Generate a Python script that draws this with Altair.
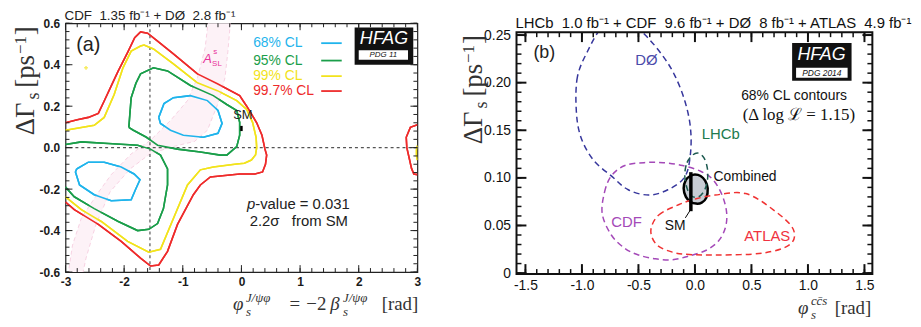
import altair as alt
import pandas as pd

SANS = "Liberation Sans"
SERIF = "Liberation Serif"

# ======================= Panel (a) data =======================
A_X_DOMAIN = [-3.0, 3.0]
A_Y_DOMAIN = [-0.6, 0.6]
a_x_major = [-3, -2, -1, 0, 1, 2, 3]
a_y_major = [-0.6, -0.4, -0.2, 0.0, 0.2, 0.4, 0.6]
a_x_minor = [round(-3 + 0.2 * k, 2) for k in range(31)]
a_y_minor = [round(-0.6 + 0.04 * k, 3) for k in range(31)]

cl_names = ["68% CL", "95% CL", "99% CL", "99.7% CL"]
cl_colors = ["#1fb4ec", "#1a9e4a", "#f2e31c", "#ee2b2b"]

a_cl68_upper = [(-1.41, 0.146), (-1.32, 0.213), (-1.16, 0.241), (-0.87, 0.251), (-0.58, 0.227),
                (-0.40, 0.179), (-0.33, 0.117), (-0.40, 0.069), (-0.65, 0.050), (-0.99, 0.060),
                (-1.21, 0.084), (-1.38, 0.117)]
a_cl68_lower = [(-2.81, -0.103), (-2.61, -0.070), (-2.34, -0.070), (-2.05, -0.093), (-1.83, -0.127),
                (-1.73, -0.155), (-1.80, -0.198), (-1.88, -0.251), (-2.22, -0.256), (-2.51, -0.227),
                (-2.76, -0.180), (-2.83, -0.117)]
a_cl95_upper = [(-1.92, 0.098), (-1.90, 0.170), (-1.88, 0.241), (-1.80, 0.310), (-1.72, 0.356),
                (-1.50, 0.385), (-1.26, 0.370), (-0.87, 0.300), (-0.48, 0.251), (-0.25, 0.208),
                (-0.08, 0.179), (-0.03, 0.122), (-0.03, 0.060), (-0.08, 0.005), (-0.25, -0.036),
                (-0.36, -0.036), (-0.70, -0.021), (-1.09, -0.007), (-1.43, 0.012), (-1.62, 0.050),
                (-1.85, 0.085)]
a_cl95_lower = [(-3.0, 0.015), (-2.73, 0.028), (-2.27, 0.020), (-1.77, 0.012), (-1.55, -0.007),
                (-1.38, -0.036), (-1.26, -0.103), (-1.26, -0.180), (-1.33, -0.294), (-1.43, -0.366),
                (-1.58, -0.394), (-1.77, -0.400), (-2.10, -0.356), (-2.51, -0.294), (-2.85, -0.237),
                (-3.0, -0.190)]
a_cl99_main = [(-3.0, 0.084), (-2.51, 0.108), (-2.34, 0.146), (-2.17, 0.256), (-2.02, 0.385),
               (-1.88, 0.466), (-1.72, 0.490), (-1.66, 0.495), (-1.50, 0.476), (-1.16, 0.404),
               (-0.75, 0.313), (-0.41, 0.275), (-0.08, 0.227), (0.09, 0.184), (0.19, 0.122),
               (0.25, 0.050), (0.26, 0.000), (0.24, -0.035), (0.17, -0.060), (0.05, -0.075),
               (-0.08, -0.079), (-0.48, -0.093), (-0.70, -0.107), (-0.80, -0.140), (-0.92, -0.180),
               (-1.16, -0.342), (-1.38, -0.490), (-1.58, -0.504), (-1.94, -0.452), (-2.39, -0.356),
               (-2.73, -0.299), (-3.0, -0.237)]
a_cl99_edge = [(3.0, 0.01), (2.985, -0.01), (2.985, -0.04), (3.0, -0.06)]
a_cl997_main = [(-3.0, 0.120), (-2.80, 0.135), (-2.61, 0.146), (-2.44, 0.165), (-2.34, 0.225),
                (-2.20, 0.310), (-2.10, 0.370), (-1.94, 0.460), (-1.82, 0.530), (-1.72, 0.558),
                (-1.60, 0.552), (-1.43, 0.514), (-1.16, 0.452), (-0.75, 0.356), (-0.41, 0.308),
                (-0.03, 0.251), (0.09, 0.200), (0.26, 0.120), (0.35, 0.060), (0.40, -0.006),
                (0.43, -0.036), (0.41, -0.080), (0.36, -0.117), (0.23, -0.127), (-0.03, -0.127),
                (-0.53, -0.141), (-0.70, -0.180), (-0.82, -0.227), (-1.09, -0.370), (-1.26, -0.500),
                (-1.41, -0.566), (-1.55, -0.571), (-1.72, -0.533), (-2.05, -0.452), (-2.44, -0.370),
                (-2.85, -0.299), (-3.0, -0.262)]
a_cl997_edge = [(3.0, 0.110), (2.88, 0.098), (2.81, 0.050), (2.82, 0.000), (2.86, -0.050),
                (2.90, -0.100), (2.94, -0.127), (3.0, -0.130)]

# A_SL^s band: left edge top->bottom, then right edge bottom->top
a_asl_band = [(-0.56, 0.65), (-0.57, 0.60), (-0.62, 0.48), (-0.75, 0.337), (-0.92, 0.227),
              (-1.21, 0.131), (-1.55, 0.036), (-1.88, -0.030), (-2.22, -0.130), (-2.45, -0.220),
              (-2.73, -0.340), (-2.88, -0.470), (-2.95, -0.600), (-2.97, -0.650),
              (-2.72, -0.650), (-2.70, -0.600), (-2.65, -0.533), (-2.48, -0.370), (-2.24, -0.213),
              (-1.90, -0.103), (-1.56, -0.030), (-1.17, 0.005), (-0.80, 0.030), (-0.58, 0.084),
              (-0.40, 0.213), (-0.28, 0.337), (-0.23, 0.466), (-0.19, 0.600), (-0.18, 0.650)]

a_sm_phi = 0.0
a_sm_dg = (0.080, 0.105)
a_ref_phi = -1.56
legend_y = [0.504, 0.420, 0.345, 0.273]

# ======================= Panel (b) data =======================
B_X_DOMAIN = [-1.579, 1.570]
B_FRAME_TOP = 0.253
B_Y_DOMAIN = [-0.001, 0.2624]
b_x_major = [-1.5, -1.0, -0.5, 0.0, 0.5, 1.0, 1.5]
b_y_major = [0.0, 0.05, 0.10, 0.15, 0.20, 0.25]
b_x_minor = [round(-1.5 + 0.1 * k, 2) for k in range(31)]
b_y_minor = [round(0.01 * k, 3) for k in range(26)]

b_d0 = [(-0.95, 0.233), (-1.04, 0.206), (-1.05, 0.171), (-1.01, 0.143), (-0.90, 0.119),
        (-0.73, 0.101), (-0.59, 0.0875), (-0.41, 0.082), (-0.24, 0.0875), (-0.09, 0.101),
        (-0.04, 0.125), (-0.04, 0.153), (-0.09, 0.181), (-0.18, 0.208), (-0.29, 0.229),
        (-0.44, 0.250), (-0.62, 0.268), (-0.82, 0.258)]
b_cdf = [(-0.82, 0.062), (-0.80, 0.085), (-0.74, 0.102), (-0.62, 0.113), (-0.45, 0.116),
         (-0.28, 0.116), (-0.11, 0.113), (0.05, 0.107), (0.16, 0.098), (0.24, 0.082),
         (0.28, 0.064), (0.27, 0.048), (0.21, 0.034), (0.10, 0.024), (-0.05, 0.018),
         (-0.20, 0.014), (-0.35, 0.015), (-0.50, 0.019), (-0.62, 0.026), (-0.74, 0.040)]
b_lhcb = [(-0.09, 0.103), (-0.07, 0.116), (-0.02, 0.124), (0.03, 0.126), (0.08, 0.121),
          (0.11, 0.110), (0.11, 0.097), (0.08, 0.086), (0.03, 0.080), (-0.03, 0.081),
          (-0.07, 0.089)]
b_atlas = [(-0.39, 0.045), (-0.32, 0.061), (-0.14, 0.072), (0.01, 0.078), (0.18, 0.082),
           (0.45, 0.0835), (0.71, 0.065), (0.87, 0.046), (0.84, 0.030), (0.60, 0.021),
           (0.21, 0.019), (-0.05, 0.0195), (-0.20, 0.022), (-0.34, 0.030)]
b_combined = [(-0.10, 0.089), (-0.08, 0.098), (-0.04, 0.102), (0.0, 0.1035), (0.05, 0.102),
              (0.09, 0.097), (0.113, 0.089), (0.10, 0.079), (0.06, 0.074), (0.01, 0.073),
              (-0.04, 0.075), (-0.08, 0.080)]
b_sm_phi = -0.036
b_sm_dg = (0.065, 0.106)
b_colors = {"DØ": "#36369c", "CDF": "#a449b8", "LHCb": "#1d5a50", "ATLAS": "#f03232"}


# ======================= helpers =======================
def path_df(pts, cid, col, closed=False):
    pts = list(pts) + ([pts[0]] if closed else [])
    return pd.DataFrame({"x": [p[0] for p in pts], "y": [p[1] for p in pts],
                         "i": list(range(len(pts))), "cid": cid, "col": col})


class Frame:
    def __init__(self, xs, ys, xax, yax):
        self.xs, self.ys, self.xax, self.yax = xs, ys, xax, yax

    def X(self, f="x:Q"):
        return alt.X(f, scale=self.xs, axis=self.xax)

    def Y(self, f="y:Q"):
        return alt.Y(f, scale=self.ys, axis=self.yax)

    def txt(self, x, y, t, **kw):
        df = pd.DataFrame({"x": [x], "y": [y], "t": [t]})
        return alt.Chart(df).mark_text(**kw).encode(x=self.X(), y=self.Y(), text="t:N")

    def rect(self, x, x2, y, y2, **kw):
        df = pd.DataFrame({"x": [x], "x2": [x2], "y": [y], "y2": [y2]})
        return alt.Chart(df).mark_rect(**kw).encode(x=self.X(), x2="x2:Q", y=self.Y(), y2="y2:Q")

    def ticks(self, xvals, yvals, W, H, L, sw, color, top=0):
        dx = pd.DataFrame({"v": xvals})
        dy = pd.DataFrame({"v": yvals})
        r = dict(strokeWidth=sw, color=color)
        return [
            alt.Chart(dx).mark_rule(**r).encode(x=self.X("v:Q"), y=alt.value(H), y2=alt.value(H - L)),
            alt.Chart(dx).mark_rule(**r).encode(x=self.X("v:Q"), y=alt.value(top), y2=alt.value(top + L)),
            alt.Chart(dy).mark_rule(**r).encode(y=self.Y("v:Q"), x=alt.value(0), x2=alt.value(L)),
            alt.Chart(dy).mark_rule(**r).encode(y=self.Y("v:Q"), x=alt.value(W), x2=alt.value(W - L)),
        ]


def ptxt(px, py, t, **kw):
    return alt.Chart(pd.DataFrame({"t": [t]})).mark_text(**kw).encode(
        x=alt.value(px), y=alt.value(py), text="t:N")


def neg_fmt(f):
    return ("datum.value < 0 ? '-' + format(-datum.value, '%s') : format(datum.value, '%s')" % (f, f))


rot = dict(angle=270, align="left", baseline="alphabetic", font=SERIF, color="#333")
hor = dict(align="left", baseline="alphabetic", font=SERIF, color="#333")


def ytitle(bx, dy=0):
    return [
        ptxt(bx, 113 + dy, "ΔΓ", fontSize=27, **rot),
        ptxt(bx + 5, 77 + dy, "s", fontSize=18, **rot),
        ptxt(bx, 65 + dy, "[ps", fontSize=27, **rot),
        ptxt(bx - 8, 31 + dy, "−1", fontSize=17, **rot),
        ptxt(bx, 12 + dy, "]", fontSize=27, **rot),
    ]


# ======================= Panel (a) =======================
WA, HA = 355, 251
lab_a = dict(ticks=False, domain=False, grid=False, labelFont=SANS, labelFontSize=12,
             labelFontWeight="bold", labelColor="#1a1a1a", labelFlush=False,
             labelOverlap=False, title="")
FA = Frame(alt.Scale(domain=A_X_DOMAIN, nice=False, zero=False),
           alt.Scale(domain=A_Y_DOMAIN, nice=False, zero=False),
           alt.Axis(values=a_x_major, labelExpr=neg_fmt("d"), labelPadding=5, **lab_a),
           alt.Axis(values=a_y_major, labelExpr=neg_fmt(".1f"), labelPadding=6, **lab_a))

band = alt.Chart(path_df(a_asl_band, "band", "#f3b9d4")).mark_line(
    clip=True, fill="#fdf2f7", stroke="#f5c8dc", strokeWidth=0.8, strokeDash=[4, 3]).encode(
    x=FA.X(), y=FA.Y(), order="i:Q")

a_paths = pd.concat([
    path_df(a_cl997_main, "r1", cl_colors[3]), path_df(a_cl997_edge, "r2", cl_colors[3]),
    path_df(a_cl99_main, "y1", cl_colors[2]), path_df(a_cl99_edge, "y2", cl_colors[2]),
    path_df(a_cl95_upper, "g1", cl_colors[1], closed=True), path_df(a_cl95_lower, "g2", cl_colors[1]),
    path_df(a_cl68_upper, "c1", cl_colors[0], closed=True),
    path_df(a_cl68_lower, "c2", cl_colors[0], closed=True),
])


def contour_layer():
    return alt.Chart(a_paths).mark_line(clip=True, strokeWidth=1.6).encode(
        x=FA.X(), y=FA.Y(), color=alt.Color("col:N", scale=None), detail="cid:N", order="i:Q")


vguide = alt.Chart(pd.DataFrame({"x": [a_ref_phi]})).mark_rule(
    color="#555", strokeDash=[3, 3], strokeWidth=1.2).encode(x=FA.X())
hguide = alt.Chart(pd.DataFrame({"y": [0.0]})).mark_rule(
    color="#555", strokeDash=[3, 3], strokeWidth=1.2).encode(y=FA.Y())

leg_df = pd.DataFrame({"x": [1.36] * 4, "x2": [1.71] * 4, "y": legend_y, "col": cl_colors})
leg_lines = alt.Chart(leg_df).mark_rule(strokeWidth=1.8).encode(
    x=FA.X(), x2="x2:Q", y=FA.Y(), color=alt.Color("col:N", scale=None))
leg_txt = alt.Chart(pd.DataFrame({"x": [0.2] * 4, "y": legend_y, "t": cl_names, "col": cl_colors})
                    ).mark_text(font=SANS, fontSize=14, align="left", baseline="middle").encode(
    x=FA.X(), y=FA.Y(), text="t:N", color=alt.Color("col:N", scale=None))

sm_a = alt.Chart(pd.DataFrame({"x": [a_sm_phi], "y": [a_sm_dg[0]], "y2": [a_sm_dg[1]]})).mark_rule(
    color="black", strokeWidth=2.5).encode(x=FA.X(), y=FA.Y(), y2="y2:Q")

specks = alt.Chart(pd.DataFrame({"x": [-2.65], "y": [0.385]})).mark_point(
    shape="cross", size=14, filled=True, color=cl_colors[2]).encode(x=FA.X(), y=FA.Y())

hfag_a = [
    FA.rect(1.93, 2.93, 0.40, 0.58, color="#111"),
    FA.rect(2.0, 2.84, 0.424, 0.47, color="white"),
    FA.txt(2.43, 0.523, "HFAG", font=SANS, fontSize=18, fontStyle="italic",
           color="white", align="center", baseline="middle"),
    FA.txt(2.42, 0.447, "PDG 11", font=SANS, fontSize=8, fontStyle="italic",
           color="#111", align="center", baseline="middle"),
]

cma = dict(font=SANS, baseline="middle", color="#222")
texts_a = [
    FA.txt(-2.61, 0.495, "(a)", fontSize=20, align="center", **cma),
    FA.txt(0.025, 0.155, "SM", fontSize=13, align="center", **cma),
    FA.txt(0.093, -0.27, "p", fontSize=15, fontStyle="italic", align="left", **cma),
    FA.txt(0.235, -0.27, "-value = 0.031", fontSize=15, align="left", **cma),
    FA.txt(0.14, -0.356, "2.2σ\u00a0\u00a0\u00a0from SM", fontSize=15, align="left", **cma),
    FA.txt(-0.65, 0.409, "A", font=SANS, fontSize=13, fontStyle="italic", align="left",
           baseline="alphabetic", color="#e8329b"),
    FA.txt(-0.50, 0.394, "SL", font=SANS, fontSize=8, align="left", baseline="alphabetic", color="#e8329b"),
    FA.txt(-0.48, 0.452, "s", font=SANS, fontSize=8, align="left", baseline="alphabetic", color="#e8329b"),
]

xtitle_a = [
    ptxt(169, 289, "φ", fontSize=19, fontStyle="italic", **hor),
    ptxt(182, 281, "J/ψφ", fontSize=13, fontStyle="italic", **hor),
    ptxt(182, 295, "s", fontSize=13, fontStyle="italic", **hor),
    ptxt(226, 289, "=", fontSize=19, **hor),
    ptxt(243, 289, "−2", fontSize=19, **hor),
    ptxt(267, 289, "β", fontSize=19, fontStyle="italic", **hor),
    ptxt(280, 281, "J/ψφ", fontSize=13, fontStyle="italic", **hor),
    ptxt(280, 295, "s", fontSize=13, fontStyle="italic", **hor),
    ptxt(319, 289, "[rad]", fontSize=19, **hor),
]
title_a = ptxt(-1, -3, "CDF\u00a0\u00a01.35 fb⁻¹ + DØ\u00a0\u00a02.8 fb⁻¹", font=SANS, fontSize=13.5,
               align="left", baseline="alphabetic", color="#222")

panel_a = alt.layer(
    contour_layer(), band, vguide, hguide, contour_layer(),
    specks, sm_a, leg_lines, leg_txt, *hfag_a, *texts_a,
    *FA.ticks(a_x_major, a_y_major, WA, HA, 7, 1, "#222"),
    *FA.ticks(a_x_minor, a_y_minor, WA, HA, 4, 1, "#222"),
    *ytitle(-32), *xtitle_a, title_a,
).properties(width=WA, height=HA, view=alt.ViewBackground(stroke="#222", strokeWidth=1.2))

# ======================= Panel (b) =======================
WB, HB = 359, 253
TOPB = 9  # pixel offset of the frame top inside the plot area
lab_b = dict(ticks=False, domain=False, grid=False, labelFont=SANS, labelFontSize=14,
             labelColor="#111", labelFlush=False, labelOverlap=False, title="")
FB = Frame(alt.Scale(domain=B_X_DOMAIN, nice=False, zero=False),
           alt.Scale(domain=B_Y_DOMAIN, nice=False, zero=False),
           alt.Axis(values=b_x_major, labelExpr=neg_fmt(".1f"), labelPadding=5, **lab_b),
           alt.Axis(values=b_y_major, labelExpr="datum.value == 0 ? '0' : format(datum.value, '.2f')",
                    labelPadding=6, **lab_b))

comb = alt.Chart(path_df(b_combined, "comb", "black")).mark_line(
    clip=True, interpolate="cardinal-closed", fill="#c8ccd4", stroke="black", strokeWidth=2.5).encode(
    x=FB.X(), y=FB.Y(), order="i:Q")

b_paths = pd.concat([
    path_df(b_d0, "DØ", b_colors["DØ"]), path_df(b_cdf, "CDF", b_colors["CDF"]),
    path_df(b_atlas, "ATLAS", b_colors["ATLAS"]), path_df(b_lhcb, "LHCb", b_colors["LHCb"]),
])
ell_b = alt.Chart(b_paths).mark_line(
    clip=True, interpolate="cardinal-closed", strokeWidth=1.5, strokeDash=[6, 4]).encode(
    x=FB.X(), y=FB.Y(), color=alt.Color("col:N", scale=None), detail="cid:N", order="i:Q")

sm_b = alt.Chart(pd.DataFrame({"x": [b_sm_phi], "y": [b_sm_dg[0]], "y2": [b_sm_dg[1]]})).mark_rule(
    color="black", strokeWidth=3.5).encode(x=FB.X(), y=FB.Y(), y2="y2:Q")
sm_link = alt.Chart(pd.DataFrame({"x": [-0.085], "x2": [-0.042], "y": [0.058], "y2": [0.066]})).mark_rule(
    color="black", strokeWidth=1).encode(x=FB.X(), x2="x2:Q", y=FB.Y(), y2="y2:Q")

cover_b = FB.rect(B_X_DOMAIN[0], B_X_DOMAIN[1], B_FRAME_TOP, B_Y_DOMAIN[1], color="white", clip=True)
frame_b = FB.rect(B_X_DOMAIN[0], B_X_DOMAIN[1], 0.0 - 0.001, B_FRAME_TOP,
                  fillOpacity=0, stroke="#111", strokeWidth=2)

cm = dict(font=SANS, align="center", baseline="middle")
texts_b = [
    FB.txt(-1.333, 0.231, "(b)", fontSize=18, color="#222", **cm),
    FB.txt(-0.43, 0.224, "DØ", fontSize=15, color="#4a4aaa", **cm),
    FB.txt(0.228, 0.146, "LHCb", fontSize=15, color="#217a4e", **cm),
    FB.txt(0.443, 0.101, "Combined", fontSize=14, color="#111", **cm),
    FB.txt(-0.605, 0.054, "CDF", fontSize=15, color=b_colors["CDF"], **cm),
    FB.txt(0.64, 0.0385, "ATLAS", fontSize=15, color="#f03240", **cm),
    FB.txt(-0.175, 0.049, "SM", fontSize=14, color="#111", **cm),
    FB.txt(0.877, 0.186, "68% CL contours", fontSize=14, color="#111", **cm),
    FB.txt(0.92, 0.1656, "(Δ log ℒ = 1.15)", fontSize=17, color="#111",
           font=SERIF, align="center", baseline="middle"),
]
hfag_b = [
    FB.rect(0.86, 1.386, 0.2021, 0.2417, color="#111"),
    FB.rect(0.895, 1.351, 0.2052, 0.2156, color="white"),
    FB.txt(1.12, 0.2295, "HFAG", fontSize=18, fontStyle="italic", color="white", **cm),
    FB.txt(1.123, 0.2104, "PDG 2014", fontSize=8.5, fontStyle="italic", color="#111", **cm),
]
xtitle_b = [
    ptxt(284, 293, "φ", fontSize=19, fontStyle="italic", **hor),
    ptxt(297, 284, "cc̄s", fontSize=13, fontStyle="italic", **hor),
    ptxt(297, 298, "s", fontSize=13, fontStyle="italic", **hor),
    ptxt(321, 293, "[rad]", fontSize=19, **hor),
]
title_b = ptxt(-1, 5, "LHCb\u00a0\u00a01.0 fb⁻¹ + CDF\u00a0\u00a09.6 fb⁻¹ + DØ\u00a0\u00a08 fb⁻¹ + ATLAS\u00a0\u00a04.9 fb⁻¹",
               font=SANS, fontSize=15, align="left", baseline="alphabetic", color="#111")

panel_b = alt.layer(
    comb, ell_b, sm_b, sm_link, cover_b, *texts_b, *hfag_b,
    *FB.ticks(b_x_major, b_y_major, WB, HB, 10, 2, "#111", top=TOPB),
    *FB.ticks(b_x_minor, b_y_minor, WB, HB, 5, 1.5, "#111", top=TOPB),
    frame_b, *ytitle(-35, TOPB), *xtitle_b, title_b,
).properties(width=WB, height=HB, view=alt.ViewBackground(stroke=None, strokeWidth=0))

# plot areas: (a) from x=64, (b) from x=519 -> 100 px between them with flush bounds
chart = alt.hconcat(panel_a, panel_b, spacing=100, bounds="flush").properties(
    padding={"left": 3, "top": -1, "right": 0, "bottom": 0}, background="white")

chart.save("out.html", embed_options={"renderer": "svg", "actions": False})
